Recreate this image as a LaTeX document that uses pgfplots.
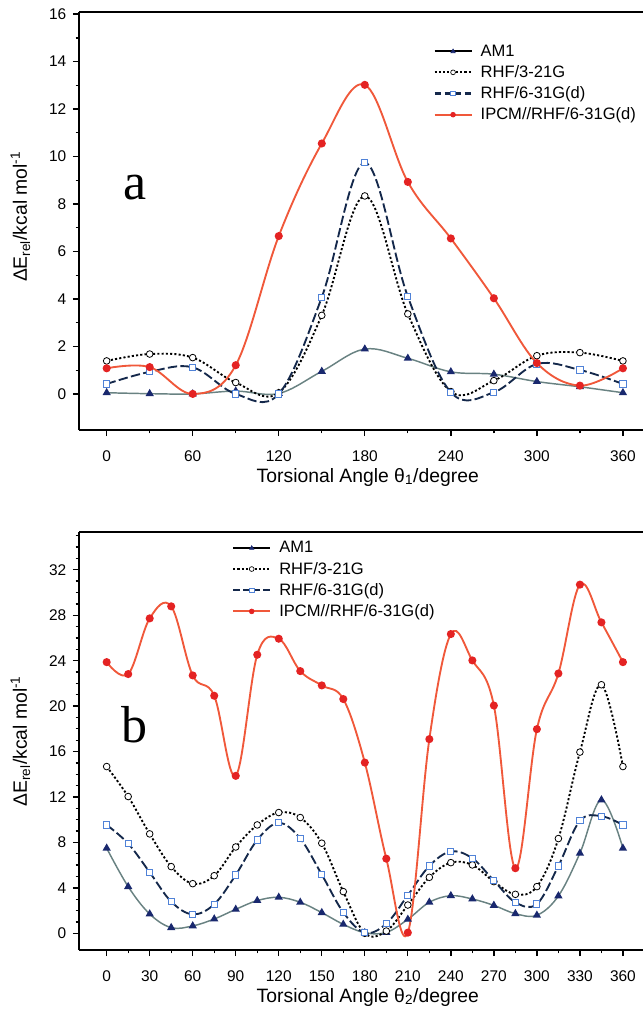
\documentclass[border=0pt]{standalone}
\usepackage{pgfplots}
\usepackage{pgfplotstable}
\pgfplotsset{compat=1.18}
\usepackage{fontspec}
\setmainfont{Liberation Sans}
\newfontfamily\seriffont{Liberation Serif}
\definecolor{redline}{RGB}{240,88,58}
\definecolor{redmark}{RGB}{228,35,35}
\definecolor{amline}{RGB}{105,130,130}
\definecolor{navy}{RGB}{25,40,110}
\definecolor{dnavy}{RGB}{20,40,75}
\definecolor{sqblue}{RGB}{80,130,215}

\pgfplotstableread{
x am1 rA rB ipcm
0   0.05 1.39 0.42 1.08
30  0.01 1.68 0.93 1.13
60  0.00 1.53 1.12 0.00
90  0.12 0.48 0.00 1.21
120 0.02 0.05 0.00 6.65
150 0.95 3.31 4.07 10.55
180 1.89 8.34 9.74 13.02
210 1.50 3.37 4.10 8.93
240 0.93 0.10 0.07 6.55
270 0.83 0.56 0.07 4.03
300 0.52 1.61 1.26 1.30
330 0.30 1.74 1.01 0.35
360 0.05 1.39 0.42 1.08
}\dataA

\pgfplotstableread{
x am1 rA rB ipcm
0   7.49 14.68 9.54 23.87
15  4.11 12.04 7.90 22.82
30  1.70 8.75 5.37 27.72
45  0.50 5.87 2.79 28.78
60  0.65 4.37 1.67 22.70
75  1.26 5.07 2.56 20.91
90  2.11 7.60 5.14 13.86
105 2.88 9.54 8.22 24.52
120 3.17 10.63 9.72 25.93
135 2.73 10.19 8.34 23.08
150 1.82 7.93 5.17 21.82
165 0.79 3.67 1.85 20.62
180 0.05 0.00 0.05 15.03
195 0.08 0.20 0.85 6.57
210 1.23 2.49 3.35 0.06
225 2.73 4.93 5.93 17.09
240 3.31 6.22 7.20 26.34
255 3.02 6.02 6.60 24.02
270 2.46 4.55 4.64 20.05
285 1.73 3.43 2.73 5.73
300 1.59 4.11 2.58 17.97
315 3.29 8.34 5.93 22.87
330 7.05 15.95 9.90 30.69
345 11.74 21.88 10.31 27.37
360 7.49 14.68 9.54 23.87
}\dataB

\pgfplotsset{
  myaxis/.style={
    scale only axis, width=423pt,
    xmin=-19.3, xmax=374,
    axis x line*=box, axis y line*=left,
    tick align=outside, xtick pos=left, ytick pos=left,
    major tick length=4.5pt, minor tick length=2.5pt,
    axis line style={line width=1.3pt},
    every tick/.style={black, line width=1pt},
    tick label style={font=\fontsize{11.6}{13}\selectfont},
    xticklabel style={yshift=-7.5pt},
    yticklabel style={xshift=-1.5pt},
    /pgf/number format/assume math mode=true,
    xlabel style={font=\fontsize{14.5}{16}\selectfont, at={(axis description cs:0.512,0)}, anchor=center, yshift=-35.25pt},
    ylabel style={font=\fontsize{14.5}{16}\selectfont, anchor=center},
    legend cell align=left,
    legend image code/.code={
      \draw[mark repeat=2,mark phase=2,#1] plot coordinates {(0pt,0pt)(13.9pt,0pt)(27.8pt,0pt)};},
  },
  sAM/.style={amline, line width=1.1pt, smooth, tension=0.6, mark=triangle*, mark size=2.5pt, mark options={solid, fill=navy, draw=navy}},
  sRA/.style={black, line width=1.4pt, smooth, tension=0.6, dash pattern=on 1.6pt off 1.6pt, mark=*, mark size=2.5pt, mark options={solid, fill=white, draw=black, line width=0.6pt}},
  sRB/.style={dnavy, line width=1.4pt, smooth, tension=0.6, dash pattern=on 7pt off 2.5pt, mark=square*, mark size=2.3pt, mark options={solid, fill=white, draw=sqblue, line width=0.7pt}},
  sIP/.style={redline, line width=1.4pt, smooth, tension=0.6, mark=*, mark size=2.3pt, mark options={solid, fill=redmark, draw=redmark}},
  lAM/.style={black, line width=1.5pt, mark=triangle*, mark size=1.8pt, mark options={solid, fill=navy, draw=navy, line width=0.5pt}},
  lRA/.style={black, line width=1.6pt, dash pattern=on 1.6pt off 1.6pt, mark=*, mark size=1.8pt, mark options={solid, fill=white, draw=black, line width=0.5pt}},
  lRB/.style={dnavy, line width=1.6pt, dash pattern=on 5pt off 2.5pt, mark=square*, mark size=1.7pt, mark options={solid, fill=white, draw=sqblue, line width=0.6pt}},
  lIP/.style={redline, line width=1.6pt, mark=*, mark size=1.8pt, mark options={solid, fill=redmark, draw=redmark, line width=0.5pt}},
}

\begin{document}
\begin{tikzpicture}
\path[use as bounding box] (0pt,0pt) rectangle (482.25pt,-756.75pt);

% Panel a
\begin{axis}[myaxis,
  at={(59.25pt,-322.5pt)}, anchor=south west,
  height=313.7pt,
  ymin=-1.52, ymax=16.1,
  xtick={0,60,...,360}, minor xtick={30,90,...,330},
  ytick={0,2,...,16}, minor ytick={1,3,...,15},
  xlabel={Torsional Angle θ\textsubscript{1}/degree},
  ylabel={ΔE\textsubscript{rel}/kcal mol\textsuperscript{-1}},
  ylabel style={at={(axis description cs:-0.104,0.51)}},
  legend style={draw=none, fill=none, font=\fontsize{12.4}{14}\selectfont,
    at={(axis description cs:0.628,0.928)}, anchor=north west, inner sep=0pt, row sep=1.4pt, column sep=4pt},
]
\addplot[sAM, forget plot] table[x=x, y=am1] {\dataA};
\addplot[sRA, forget plot] table[x=x, y=rA] {\dataA};
\addplot[sRB, forget plot] table[x=x, y=rB] {\dataA};
\addplot[sIP, forget plot] table[x=x, y=ipcm] {\dataA};
\addlegendimage{lAM}\addlegendentry{AM1}
\addlegendimage{lRA}\addlegendentry{RHF/3-21G}
\addlegendimage{lRB}\addlegendentry{RHF/6-31G(d)}
\addlegendimage{lIP}\addlegendentry{IPCM//RHF/6-31G(d)}
\node[anchor=base, font=\seriffont\fontsize{39}{39}\selectfont] at (axis description cs:0.099,0.55) {a};
\end{axis}

% Panel b
\begin{axis}[myaxis,
  at={(59.25pt,-712.5pt)}, anchor=south west,
  height=313.3pt,
  ymin=-1.47, ymax=35.3,
  xtick={0,30,...,360}, minor xtick={15,45,...,345},
  ytick={0,4,...,32}, minor ytick={0,1,...,35},
  xlabel={Torsional Angle θ\textsubscript{2}/degree},
  ylabel={ΔE\textsubscript{rel}/kcal mol\textsuperscript{-1}},
  ylabel style={at={(axis description cs:-0.104,0.5)}},
  legend style={draw=none, fill=none, font=\fontsize{12.4}{14}\selectfont,
    at={(axis description cs:0.271,0.985)}, anchor=north west, inner sep=0pt, row sep=1.4pt, column sep=4pt},
]
\addplot[sAM, forget plot] table[x=x, y=am1] {\dataB};
\addplot[sRA, forget plot] table[x=x, y=rA] {\dataB};
\addplot[sRB, forget plot] table[x=x, y=rB] {\dataB};
\addplot[sIP, forget plot] table[x=x, y=ipcm] {\dataB};
\addlegendimage{lAM}\addlegendentry{AM1}
\addlegendimage{lRA}\addlegendentry{RHF/3-21G}
\addlegendimage{lRB}\addlegendentry{RHF/6-31G(d)}
\addlegendimage{lIP}\addlegendentry{IPCM//RHF/6-31G(d)}
\node[anchor=base, font=\seriffont\fontsize{39}{39}\selectfont] at (axis description cs:0.099,0.496) {b};
\end{axis}
\end{tikzpicture}
\end{document}
